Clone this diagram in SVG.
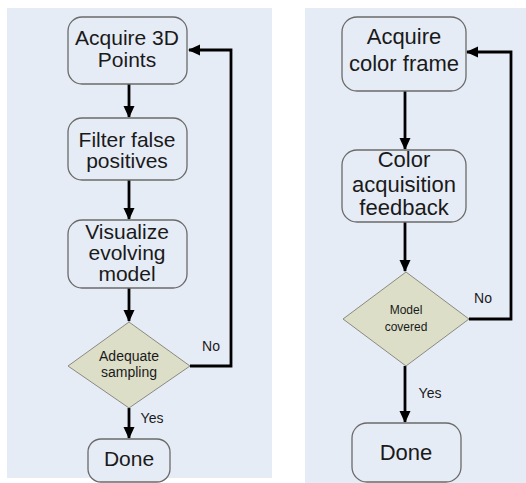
<svg xmlns="http://www.w3.org/2000/svg" width="526" height="483" viewBox="0 0 526 483">
<defs>
<style>
.bg{fill:#e6ecf6}
.box{fill:#e6ecf6;stroke:#6a6a6a;stroke-width:1.3}
.dia{fill:#dcdec8;stroke:#8a8a80;stroke-width:1}
.t{font-family:"Liberation Sans",Arial,sans-serif;fill:#1a1a1a;text-anchor:middle}
.edge{fill:none;stroke:#000;stroke-width:2.8}
.lbl{font-family:"Liberation Sans",Arial,sans-serif;fill:#1a1a1a;font-size:14px}
</style>
<marker id="ah" viewBox="0 0 12 12" refX="11" refY="6" markerWidth="12" markerHeight="12" orient="auto" markerUnits="userSpaceOnUse">
<path d="M0,0.5 L12,6 L0,11.5 z" fill="#000"/>
</marker>
</defs>
<rect class="bg" x="7" y="8" width="265" height="470"/>
<rect class="bg" x="305" y="8" width="221" height="475"/>

<g id="connectors">
<line class="edge" x1="129" y1="84" x2="129" y2="117" marker-end="url(#ah)"/>
<line class="edge" x1="129" y1="180" x2="129" y2="219" marker-end="url(#ah)"/>
<line class="edge" x1="129" y1="288" x2="129" y2="321" marker-end="url(#ah)"/>
<line class="edge" x1="129" y1="408" x2="129" y2="438" marker-end="url(#ah)"/>
<polyline class="edge" points="190,366 231,366 231,50 189,50" marker-end="url(#ah)"/>
<text class="lbl" x="211" y="351" text-anchor="middle">No</text>
<text class="lbl" x="152" y="423" text-anchor="middle">Yes</text>

<line class="edge" x1="405" y1="91" x2="405" y2="149" marker-end="url(#ah)"/>
<line class="edge" x1="405" y1="222" x2="405" y2="271" marker-end="url(#ah)"/>
<line class="edge" x1="405" y1="366" x2="405" y2="422" marker-end="url(#ah)"/>
<polyline class="edge" points="469,319 511,319 511,52 467,52" marker-end="url(#ah)"/>
<text class="lbl" x="483" y="303" text-anchor="middle">No</text>
<text class="lbl" x="430" y="398" text-anchor="middle" font-size="15">Yes</text>
</g>

<g id="acquire3d">
<rect class="box" x="68" y="17" width="119" height="67" rx="14"/>
<text class="t" font-size="21" x="127" y="45">Acquire 3D</text>
<text class="t" font-size="21" x="127" y="67">Points</text>
</g>
<g id="filter">
<rect class="box" x="68" y="118" width="119" height="62" rx="14"/>
<text class="t" font-size="21" x="127" y="147">Filter false</text>
<text class="t" font-size="21" x="127" y="168">positives</text>
</g>
<g id="visualize">
<rect class="box" x="68" y="220" width="119" height="68" rx="14"/>
<text class="t" font-size="21" x="127" y="239">Visualize</text>
<text class="t" font-size="21" x="127" y="260">evolving</text>
<text class="t" font-size="21" x="127" y="281">model</text>
</g>
<g id="adequate">
<polygon class="dia" points="129,322 190,366 129,408 68,366"/>
<text class="t" font-size="14" x="129" y="361">Adequate</text>
<text class="t" font-size="14" x="129" y="377">sampling</text>
</g>
<g id="done1">
<rect class="box" x="88" y="439" width="82" height="43" rx="13"/>
<text class="t" font-size="21" x="129" y="466">Done</text>
</g>

<g id="acquirecolor">
<rect class="box" x="342" y="17" width="124" height="74" rx="15"/>
<text class="t" font-size="22" x="404" y="44">Acquire</text>
<text class="t" font-size="22" x="404" y="71">color frame</text>
</g>
<g id="colorfeedback">
<rect class="box" x="342" y="150" width="124" height="72" rx="15"/>
<text class="t" font-size="22" x="404" y="167">Color</text>
<text class="t" font-size="22" x="404" y="192">acquisition</text>
<text class="t" font-size="22" x="404" y="215">feedback</text>
</g>
<g id="modelcovered">
<polygon class="dia" points="406,272 469,319 406,366 343,319"/>
<text class="t" font-size="12" x="406" y="314">Model</text>
<text class="t" font-size="12" x="406" y="331">covered</text>
</g>
<g id="done2">
<rect class="box" x="352" y="423" width="109" height="59" rx="15"/>
<text class="t" font-size="22" x="406" y="460">Done</text>
</g>
</svg>
